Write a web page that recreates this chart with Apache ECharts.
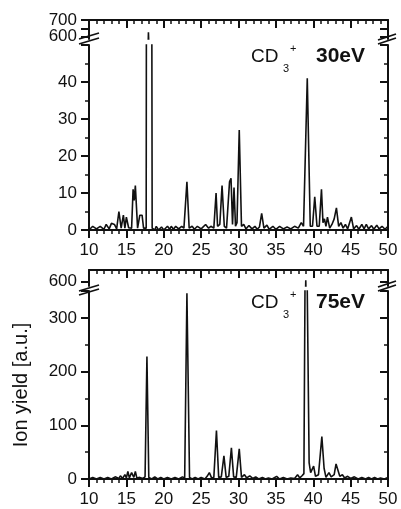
<!DOCTYPE html>
<html>
<head>
<meta charset="utf-8">
<script src="https://cdn.jsdelivr.net/npm/echarts@6/dist/echarts.min.js"></script>
<style>
html,body{margin:0;padding:0;background:#fff;}
#chart{width:401px;height:509px;}
</style>
</head>
<body>
<div id="chart"></div>
<script>
// m/z (mass) and ion yield pairs
const spectrum30eV = [
  [10,0],[10.5,1],[11,0.3],[11.5,1],[12,0.2],[12.3,1.5],[12.7,0.3],[13,1.8],[13.4,1.5],[13.7,0.3],
  [14,5],[14.3,0.5],[14.6,4],[14.8,0.5],[15,3.5],[15.3,0.6],[15.7,0.5],[15.9,11],[16.05,8],[16.2,12],
  [16.5,0.5],[16.8,4],[17.1,4],[17.3,0.5],[17.65,0.5],[17.95,625],[18.15,625],[18.45,0.5],[18.8,0],
  [19,1],[19.3,0],[19.7,0.8],[20,0],[20.5,1],[20.8,0.2],[21,1],[21.3,0.2],[21.6,1],[22,0.3],[22.4,1],
  [22.7,0.5],[23.1,13],[23.4,0.5],[23.8,1],[24.1,0.2],[24.5,1],[25,0.3],[25.6,1.5],[26,0.5],[26.3,1],
  [26.7,0.5],[27,10],[27.2,1],[27.5,1.5],[27.8,12],[28.1,1],[28.4,0.5],[28.8,13],[29,14],[29.2,1.5],
  [29.4,11.5],[29.6,1],[29.8,2],[30.1,27],[30.4,1],[30.7,1.5],[31,0.3],[31.4,1.2],[31.8,0.3],[32.2,1],
  [32.5,0.2],[32.8,0.8],[33.1,4.5],[33.4,0.5],[33.8,1.3],[34.1,0.2],[34.6,1],[35,0.2],[35.5,1],[36,0.3],
  [36.5,0.8],[37,0.3],[37.5,1],[38,0.5],[38.4,2],[38.7,1],[39.2,41],[39.6,1],[39.9,1],[40.2,9],[40.5,1],
  [40.8,1],[41.1,11],[41.3,2],[41.5,3],[41.7,1],[41.9,3.5],[42.2,0.5],[42.5,1.5],[42.8,3],[43.1,6],
  [43.4,1],[43.7,2],[44,0.5],[44.3,1.5],[44.6,0.3],[45.1,3.5],[45.4,0.3],[45.8,1.2],[46.1,0.2],[46.5,1.5],
  [46.8,0.3],[47.1,1.5],[47.4,0.3],[47.8,1.2],[48.1,0.2],[48.5,1.3],[48.8,0.3],[49.2,1],[49.6,0.2],[50,1]
];
const spectrum75eV = [
  [10,0],[10.5,3],[11,0],[11.5,3],[12,0],[12.5,3],[13,0],[13.5,4],[14,1],[14.2,6],[14.5,1],[14.8,8],
  [15,2],[15.2,14],[15.4,2],[15.7,12],[16,3],[16.2,14],[16.4,2],[16.8,3],[17.2,1],[17.5,4],[17.75,228],
  [18,3],[18.4,0],[18.8,4],[19.2,0],[19.6,3],[20,0],[20.5,3],[21,0],[21.5,3],[22,0],[22.5,4],[22.8,2],
  [23.1,346],[23.45,3],[23.8,0],[24.2,3],[24.6,0],[25,3],[25.5,0],[25.8,5],[26.1,12],[26.4,2],[26.7,3],
  [27.05,90],[27.35,3],[27.7,4],[28.05,43],[28.35,3],[28.7,5],[29.05,58],[29.35,4],[29.7,3],[30.1,56],
  [30.4,3],[30.8,8],[31.1,2],[31.5,6],[31.9,1],[32.3,4],[32.7,0],[33.2,3],[33.6,0],[34,2],[34.5,0],
  [35.1,5],[35.5,0],[36,3],[36.5,0],[37,2],[37.5,1],[37.9,8],[38.2,2],[38.5,6],[38.75,10],[39.0,605],
  [39.15,605],[39.45,30],[39.65,12],[39.9,15],[40.05,24],[40.3,5],[40.7,8],[41.15,79],[41.45,20],[41.7,3],
  [42.1,12],[42.4,4],[42.8,8],[43.05,28],[43.3,25],[43.55,5],[43.9,8],[44.2,2],[44.6,5],[45,1],[45.5,4],
  [46,0],[46.5,3],[47,0],[47.4,3],[47.8,0],[48.2,3],[48.6,0],[49,2],[49.5,0],[50,3]
];
const topUpperLabelLow = [600];
const topUpperLabelHigh = [700];
const topUpperTicks = [600, 650, 700];
const botUpperLabels = [600];
const botUpperTicks = [600];
const yAxisTitle = 'Ion yield [a.u.]';
const ionLabel = 'CD';
const energyTop = '30eV';
const energyBottom = '75eV';

const FONT = 'Liberation Sans, Arial, sans-serif';
const INK = '#111';
const axisLine = {show: true, onZero: false, lineStyle: {color: INK, width: 2}};

function xAx(grid, pos, showLabel) {
  return {
    type: 'value', gridIndex: grid, position: pos, min: 10, max: 50, interval: 5,
    axisLine: axisLine,
    axisTick: {show: true, inside: pos === 'top', length: 8, lineStyle: {color: INK, width: 2}},
    minorTick: {show: true, splitNumber: 5, length: 4, lineStyle: {color: INK, width: 1.5}},
    splitLine: {show: false}, minorSplitLine: {show: false},
    axisLabel: {show: showLabel, margin: 12, fontSize: 17, color: INK, fontFamily: FONT}
  };
}
function yUpper(grid, pos, min, max, ticks, labels, bare) {
  return {
    type: 'value', gridIndex: grid, position: pos, min: min, max: max,
    axisLine: bare ? {show: false} : axisLine,
    axisTick: {show: !bare, inside: pos === 'right', length: 8, customValues: ticks, lineStyle: {color: INK, width: 2}},
    axisLabel: {show: pos === 'left', customValues: labels, hideOverlap: false, showMinLabel: true, showMaxLabel: true,
      margin: 12, fontSize: 17, color: INK, fontFamily: FONT},
    splitLine: {show: false}
  };
}
function yLower(grid, pos, max, interval, extra) {
  return Object.assign({
    type: 'value', gridIndex: grid, position: pos, min: 0, max: max, interval: interval,
    axisLine: axisLine,
    axisTick: {show: true, inside: pos === 'right', length: 8, lineStyle: {color: INK, width: 2}},
    minorTick: {show: true, splitNumber: 2, length: 4, lineStyle: {color: INK, width: 1.5}},
    axisLabel: {show: pos === 'left', showMaxLabel: false, margin: 12, fontSize: 17, color: INK, fontFamily: FONT},
    splitLine: {show: false}, minorSplitLine: {show: false}
  }, extra || {});
}
function line(data, xi, yi) {
  return {
    type: 'line', xAxisIndex: xi, yAxisIndex: yi, data: data, showSymbol: false, symbol: 'none',
    clip: true, lineStyle: {color: INK, width: 1.6}, animation: false, silent: true
  };
}
function brk(x1, y1, x2, y2) {
  return {type: 'line', shape: {x1: x1, y1: y1, x2: x2, y2: y2}, style: {stroke: INK, lineWidth: 1.8}, silent: true};
}
function txt(x, y, text, font, align) {
  return {type: 'text', x: x, y: y, silent: true,
    style: {text: text, font: font, fill: INK, textAlign: align || 'left', textVerticalAlign: 'middle', align: align || 'left', verticalAlign: 'middle'}};
}

const chart = echarts.init(document.getElementById('chart'), null, {renderer: 'canvas'});
chart.setOption({
  animation: false,
  backgroundColor: '#fff',
  grid: [
    {left: 89, width: 299, top: 20, height: 19, outerBoundsMode: 'none'},
    {left: 89, width: 299, top: 45, height: 185, outerBoundsMode: 'none'},
    {left: 89, width: 299, top: 270, height: 16, outerBoundsMode: 'none'},
    {left: 89, width: 299, top: 291, height: 188, outerBoundsMode: 'none'}
  ],
  xAxis: [xAx(0, 'top', false), xAx(1, 'bottom', true), xAx(2, 'top', false), xAx(3, 'bottom', true)],
  yAxis: [
    yUpper(0, 'left', 585, 700, topUpperTicks, topUpperLabelLow),
    yUpper(0, 'right', 585, 700, topUpperTicks, topUpperLabelLow),
    yLower(1, 'left', 50, 10),
    yLower(1, 'right', 50, 10),
    yUpper(2, 'left', 585, 640, botUpperTicks, botUpperLabels),
    yUpper(2, 'right', 585, 640, botUpperTicks, botUpperLabels),
    yLower(3, 'left', 350, 100, {name: yAxisTitle, nameLocation: 'middle', nameGap: 58, nameMoveOverlap: false,
      nameTextStyle: {fontSize: 20, color: INK, fontFamily: FONT}}),
    yLower(3, 'right', 350, 100),
    yUpper(0, 'left', 585, 700, topUpperLabelHigh, topUpperLabelHigh, true)
  ],
  series: [
    line(spectrum30eV, 0, 0), line(spectrum30eV, 1, 2),
    line(spectrum75eV, 2, 4), line(spectrum75eV, 3, 6)
  ],
  graphic: [
    brk(79, 39, 99, 33), brk(79, 44, 99, 38),
    brk(378, 44, 396, 38), brk(378, 40, 396, 34),
    brk(79, 291, 99, 285), brk(79, 295, 99, 289),
    brk(378, 291, 396, 285), brk(378, 287, 396, 281),
    txt(251, 57, ionLabel, '19px ' + FONT), txt(283, 69, '3', '11px ' + FONT), txt(290, 49, '+', '11px ' + FONT),
    txt(316, 56, energyTop, 'bold 21px ' + FONT),
    txt(251, 303, ionLabel, '19px ' + FONT), txt(283, 315, '3', '11px ' + FONT), txt(290, 295, '+', '11px ' + FONT),
    txt(316, 302, energyBottom, 'bold 21px ' + FONT)
  ]
});
</script>
</body>
</html>
